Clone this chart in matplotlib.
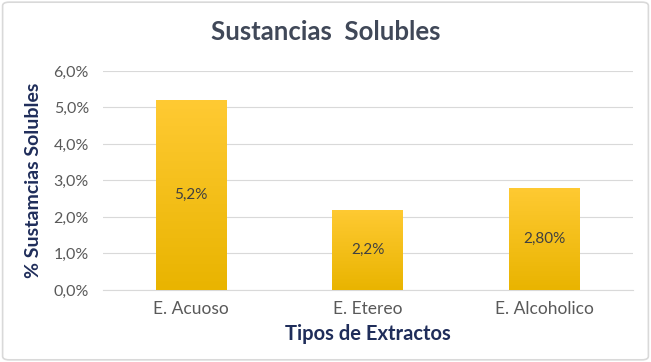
import numpy as np
import matplotlib.pyplot as plt
from matplotlib.patches import FancyBboxPatch
from matplotlib.ticker import FuncFormatter
from matplotlib.colors import LinearSegmentedColormap

# datos
categorias = ['E. Acuoso', 'E. Etereo', 'E. Alcoholico']
valores = [0.052, 0.022, 0.028]
etiquetas = ['5,2%', '2,2%', '2,80%']

plt.rcParams['font.family'] = ['Lato', 'DejaVu Sans']

fig = plt.figure(figsize=(6.51, 3.62), dpi=100)
ax = fig.add_axes([0.158, 0.199, 0.814, 0.605])

# marco del gráfico
fig.patches.append(FancyBboxPatch((0.004, 0.006), 0.992, 0.988, boxstyle='round,pad=0,rounding_size=0.01',
                                  transform=fig.transFigure, fill=False, edgecolor='#d9d9d9', lw=1.2))

x = np.arange(len(categorias))
barras = ax.bar(x, valores, width=0.4, color='#FAC21C', zorder=2)

# degradado en las barras
grad = np.linspace(0, 1, 256).reshape(-1, 1)
cmap = LinearSegmentedColormap.from_list('amarillo', ['#E9B400', '#FFCA33'])
for b in barras:
    x0, y0 = b.get_x(), b.get_y()
    im = ax.imshow(grad, cmap=cmap, origin='lower', aspect='auto',
                   extent=[x0, x0 + b.get_width(), y0, y0 + b.get_height()], zorder=3)
    im.set_clip_path(b)

for xi, v, t in zip(x, valores, etiquetas):
    ax.text(xi, v / 2, t, ha='center', va='center', fontsize=11, color='#404040', zorder=4)

ax.set_xlim(-0.5, 2.5)
ax.set_ylim(0, 0.06)
ax.set_yticks(np.arange(0, 0.061, 0.01))
ax.yaxis.set_major_formatter(FuncFormatter(lambda v, p: f'{v*100:.1f}%'.replace('.', ',')))
ax.set_xticks(x)
ax.set_xticklabels(categorias)
ax.tick_params(axis='both', length=0, labelcolor='#595959')
ax.tick_params(axis='x', pad=8, labelsize=12.5)
ax.tick_params(axis='y', pad=10, labelsize=11.5)
ax.grid(axis='y', color='#d9d9d9', lw=0.8, zorder=0)
for s in ['top', 'right', 'left']:
    ax.spines[s].set_visible(False)
ax.spines['bottom'].set_color('#d9d9d9')

fig.text(0.5, 0.912, 'Sustancias  Solubles', ha='center', va='center',
         fontsize=18.5, fontweight='bold', color='#404858')
ax.set_xlabel('Tipos de Extractos', fontsize=14.5, fontweight='bold', color='#1F2D5A', labelpad=5)
ax.set_ylabel('% Sustamcias Solubles', fontsize=14, fontweight='bold', color='#1F2D5A', labelpad=8)

fig.savefig('out.png', dpi=100)
